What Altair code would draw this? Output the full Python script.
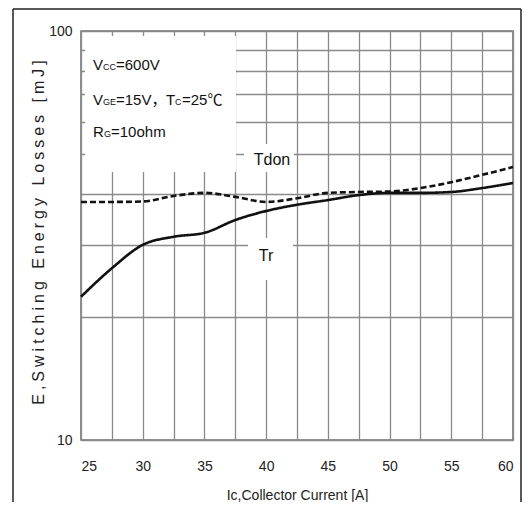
import altair as alt
import pandas as pd

# ---- data ----
current = [25, 27.5, 30, 32.5, 35, 37.5, 40, 42.5, 45, 47.5, 50, 52.5, 55, 57.5, 60]
tdon = [38.2, 38.2, 38.3, 39.5, 40.2, 39.3, 38.2, 39.0, 40.2, 40.4, 40.5, 41.3, 42.7, 44.5, 46.5]
tr = [22.4, 26.3, 30.0, 31.4, 32.1, 34.5, 36.3, 37.6, 38.6, 39.7, 40.2, 40.2, 40.4, 41.3, 42.5]
series_names = ["Tdon", "Tr"]
x_grid = [25, 27.5, 30, 32.5, 35, 37.5, 40, 42.5, 45, 47.5, 50, 52.5, 55, 57.5, 60]
x_labels = [25, 30, 35, 40, 45, 50, 55, 60]
y_grid = [10, 20, 30, 40, 50, 60, 70, 80, 90, 100]
y_labels = [10, 100]

x_title = "Ic,Collector Current [A]"
y_title_text = "E,Switching Energy Losses [mJ]"

rows = []
for name, vals in zip(series_names, [tdon, tr]):
    for c, v in zip(current, vals):
        rows.append({"current": c, "energy": v, "series": name})
df = pd.DataFrame(rows)

FONT = "Liberation Sans, Arial, Noto Sans CJK SC, sans-serif"
W, H = 432, 409

# letter-spaced y title (the reference uses wide tracking)
y_title = "\u2005".join(list(y_title_text))

x_lab_expr = "indexof(" + str(x_labels) + ", datum.value) >= 0 ? datum.label : ''"
y_lab_expr = "indexof(" + str(y_labels) + ", datum.value) >= 0 ? datum.label : ''"

x_enc = alt.X(
    "current:Q",
    scale=alt.Scale(domain=[25, 60], nice=False, zero=False),
    axis=alt.Axis(values=x_grid, labelExpr=x_lab_expr, labelOverlap=False,
                  title=x_title, titleFont=FONT, titleFontSize=14,
                  titleFontWeight="normal", titleColor="#222",
                  titleBaseline="middle", titleY=55,
                  labelPadding=26, labelBaseline="middle"),
)
y_enc = alt.Y(
    "energy:Q",
    scale=alt.Scale(type="log", domain=[10, 100], nice=False),
    axis=alt.Axis(values=y_grid, labelExpr=y_lab_expr, labelOverlap=False,
                  title=y_title, titleFont=FONT, titleFontSize=16,
                  titleFontWeight="normal", titleColor="#222",
                  titleAngle=-90, titleAlign="center", titleBaseline="middle",
                  titleX=-43, titleY=201, labelPadding=9),
)

lines = alt.Chart(df).mark_line(color="#111", strokeWidth=2.6, interpolate="monotone").encode(
    x=x_enc,
    y=y_enc,
    strokeDash=alt.StrokeDash("series:N",
                              scale=alt.Scale(domain=series_names, range=[[6, 3], [1, 0]]),
                              legend=None),
    detail="series:N",
)

one = alt.Data(values=[{}])


def box(x1, x2, y1, y2):
    return alt.Chart(one).mark_rect(fill="white").encode(
        x=alt.value(x1), x2=alt.value(x2), y=alt.value(y1), y2=alt.value(y2))


def txt(s, x, y, size, align="left", baseline="alphabetic"):
    return alt.Chart(one).mark_text(text=s, font=FONT, fontSize=size, color="#111",
                                    align=align, baseline=baseline).encode(
        x=alt.value(x), y=alt.value(y))


def rule(x1, x2, y1, y2):
    return alt.Chart(one).mark_rule(color="#222", strokeWidth=1.5).encode(
        x=alt.value(x1), x2=alt.value(x2), y=alt.value(y1), y2=alt.value(y2))


boxes = [
    box(4, 155, 5, 141),
    box(163, 213, 113, 141),
    box(167, 212, 207, 249),
]

MAIN, SUB = 15, 9
texts = [
    txt("V", 12, 39, MAIN), txt("CC", 22, 39, SUB), txt("=600V", 35, 39, MAIN),
    txt("V", 12, 74, MAIN), txt("GE", 22, 74, SUB), txt("=15V，", 35, 74, MAIN),
    txt("T", 85, 74, MAIN), txt("C", 94, 74, SUB), txt("=25℃", 101, 74, MAIN),
    txt("R", 12, 106, MAIN), txt("G", 23, 106, SUB), txt("=10ohm", 30, 106, MAIN),
    txt("Tdon", 191, 129, 16, align="center", baseline="middle"),
    txt("Tr", 185, 225, 16, align="center", baseline="middle"),
]

frame = [
    rule(-68, -68, -22, 480),
    rule(-68, 440, -22, -22),
    rule(440, 440, -22, 480),
]

chart = alt.layer(*boxes, lines, *texts, *frame).properties(
    width=W, height=H,
    autosize=alt.AutoSizeParams(type="none"),
    padding={"left": 73, "top": 23, "right": 9, "bottom": 62},
    background="white",
).configure_view(
    stroke="#6e6e6e", strokeWidth=1.5
).configure_axis(
    grid=True, gridColor="#8a8a8a", gridWidth=1.3, domain=False,
    ticks=False, tickSize=0, labelFont=FONT, labelFontSize=14, labelColor="#222",
)

chart.save("out.html", embed_options={"renderer": "svg", "actions": False})
